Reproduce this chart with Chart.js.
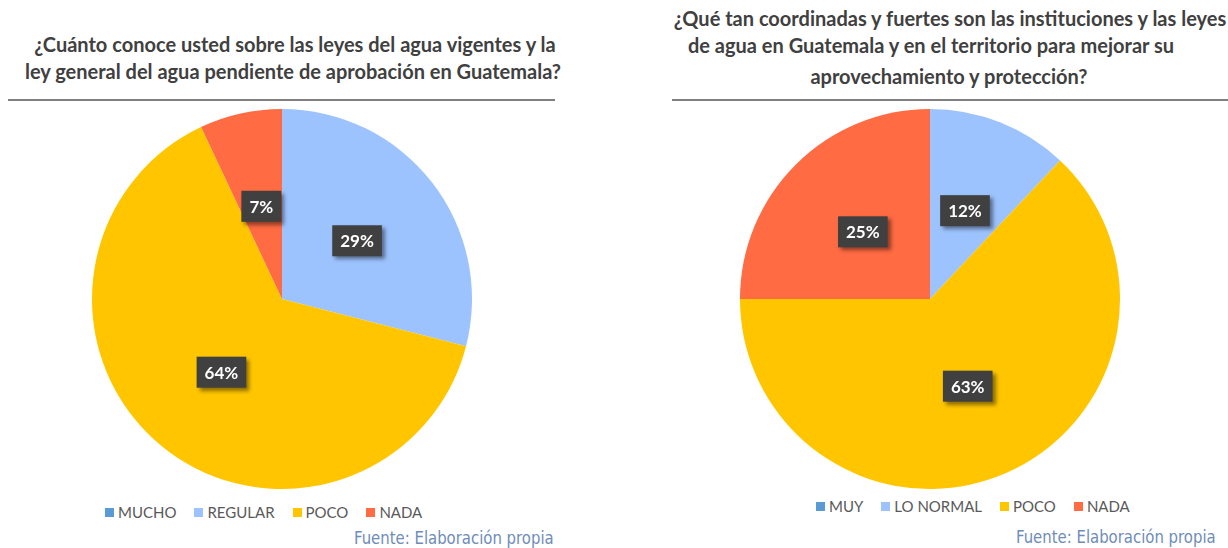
<!DOCTYPE html>
<html>
<head>
<meta charset="utf-8">
<script src="https://cdn.jsdelivr.net/npm/chart.js@4.4.0/dist/chart.umd.min.js"></script>
<style>
  body { margin:0; width:1228px; height:548px; overflow:hidden; background:#fff; position:relative; font-family:Lato, sans-serif; }
  .tline { position:absolute; width:800px; height:24px; line-height:24px; text-align:center; white-space:nowrap;
           color:#404040; font-weight:bold; font-size:20px; }
  .rule { position:absolute; height:2px; background:#808080; }
  .pie { position:absolute; }
  .legend { position:absolute; display:flex; gap:18px; height:20px; line-height:20px; font-size:15px; color:#595959; white-space:nowrap; }
  .legend .sw { display:inline-block; width:9px; height:9px; margin-right:4px; vertical-align:1px; }
  .src { position:absolute; color:#6f8cba; font-size:18px; white-space:nowrap; transform:scaleX(0.92); transform-origin:0 0;
         font-family:"Liberation Sans Narrow", "DejaVu Sans Condensed", sans-serif; line-height:22px; }
</style>
</head>
<body>
<div id="titleL1" class="tline" style="left:-105px; top:32px;"></div>
<div id="titleL2" class="tline" style="left:-107px; top:59px;"></div>
<div class="rule" style="left:8px; width:547px; top:99px;"></div>
<canvas id="pieLeft" class="pie" width="380" height="380" style="left:92px; top:109px;"></canvas>
<div id="legendLeft" class="legend" style="left:105px; top:502px;"></div>
<div class="src" style="left:354px; top:527px;">Fuente: Elaboración propia</div>

<div id="titleR1" class="tline" style="left:550px; top:6px;"></div>
<div id="titleR2" class="tline" style="left:531px; top:33px;"></div>
<div id="titleR3" class="tline" style="left:549px; top:64px;"></div>
<div class="rule" style="left:672px; width:556px; top:99px;"></div>
<canvas id="pieRight" class="pie" width="380" height="380" style="left:740px; top:109px;"></canvas>
<div id="legendRight" class="legend" style="left:816px; top:496px;"></div>
<div class="src" style="left:1016px; top:526px;">Fuente: Elaboración propia</div>

<script>
// data
const leftTitle = ['¿Cuánto conoce usted sobre las leyes del agua vigentes y la',
                   'ley general del agua pendiente de aprobación en Guatemala?'];
const leftCategories = ['MUCHO', 'REGULAR', 'POCO', 'NADA'];
const leftValues = [0, 29, 64, 7];

const rightTitle = ['¿Qué tan coordinadas y fuertes son las instituciones y las leyes',
                    'de agua en Guatemala y en el territorio para mejorar su',
                    'aprovechamiento y protección?'];
const rightCategories = ['MUY', 'LO NORMAL', 'POCO', 'NADA'];
const rightValues = [0, 12, 63, 25];

const sliceColors = ['#5B9BD5', '#9DC3FF', '#FFC600', '#FF6B42'];

leftTitle.forEach(function(t, i){ document.getElementById('titleL' + (i + 1)).textContent = t; });
rightTitle.forEach(function(t, i){ document.getElementById('titleR' + (i + 1)).textContent = t; });

// dark boxed percentage labels
const labelBoxes = {
    id: 'labelBoxes',
    afterDatasetsDraw(chart) {
        const ctx = chart.ctx;
        const meta = chart.getDatasetMeta(0);
        const values = chart.data.datasets[0].data;
        ctx.save();
        ctx.font = 'bold 17px Lato';
        ctx.textAlign = 'center';
        ctx.textBaseline = 'middle';
        meta.data.forEach(function(arc, i){
            if (!values[i]) return;
            const p = arc.tooltipPosition(true);
            const text = values[i] + '%';
            const w = ctx.measureText(text).width + 16;
            const h = 31;
            ctx.shadowColor = 'rgba(0,0,0,0.45)';
            ctx.shadowBlur = 4;
            ctx.shadowOffsetX = 3;
            ctx.shadowOffsetY = 3;
            ctx.fillStyle = '#404040';
            ctx.fillRect(p.x - w / 2, p.y - h / 2, w, h);
            ctx.shadowColor = 'transparent';
            ctx.fillStyle = '#ffffff';
            ctx.fillText(text, p.x, p.y + 1);
        });
        ctx.restore();
    }
};

function makePie(canvasId, legendId, labels, values) {
    new Chart(document.getElementById(canvasId), {
        type: 'pie',
        data: {
            labels: labels,
            datasets: [{
                data: values,
                backgroundColor: sliceColors,
                borderWidth: 0
            }]
        },
        options: {
            responsive: false,
            animation: false,
            events: [],
            plugins: {
                legend: { display: false },
                tooltip: { enabled: false }
            }
        },
        plugins: [labelBoxes]
    });

    // legend
    const box = document.getElementById(legendId);
    labels.forEach(function(label, i){
        const item = document.createElement('span');
        const sw = document.createElement('span');
        sw.className = 'sw';
        sw.style.background = sliceColors[i];
        item.appendChild(sw);
        item.appendChild(document.createTextNode(label));
        box.appendChild(item);
    });
}

makePie('pieLeft', 'legendLeft', leftCategories, leftValues);
makePie('pieRight', 'legendRight', rightCategories, rightValues);
</script>
</body>
</html>
